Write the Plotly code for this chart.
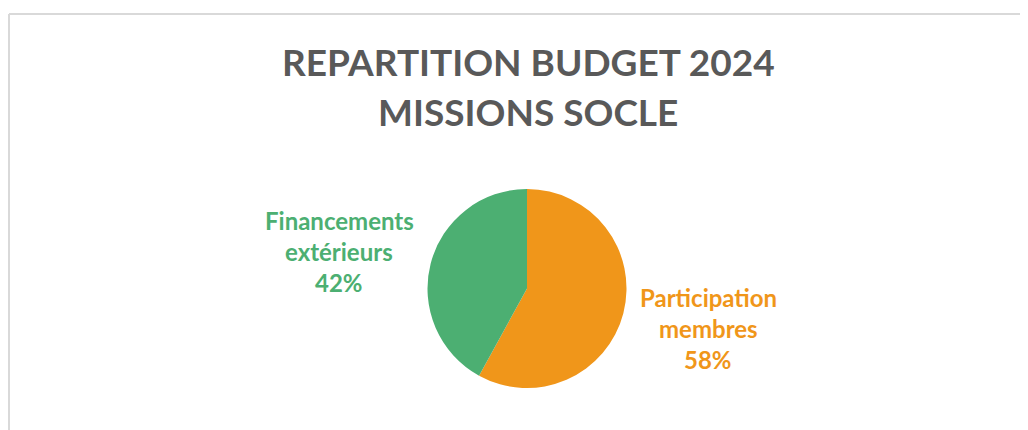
import plotly.graph_objects as go

title_lines = ["REPARTITION BUDGET 2024", "MISSIONS SOCLE"]
labels = ["Participation membres", "Financements extérieurs"]
label_lines = [["Participation", "membres"], ["Financements", "extérieurs"]]
values = [58, 42]
colors = ["#F0961A", "#4CAF72"]

W, H = 1028, 430
OFF = 8  # page body margin offset
FONT = "Lato"


def px(x):
    return (x - OFF) / W


def py(y):
    return 1 - (y - OFF) / H


fig = go.Figure()
fig.add_trace(go.Pie(
    labels=labels, values=values, sort=False, direction="clockwise", rotation=0,
    marker=dict(colors=colors, line=dict(width=0)),
    textinfo="none", hoverinfo="label+percent", showlegend=False,
    domain=dict(x=[px(527 - 99.5), px(527 + 99.5)],
                y=[py(288.5 + 99.5), py(288.5 - 99.5)]),
))

total = sum(values)
pcts = [round(v * 100 / total) for v in values]
label_pos = [(708, 297), (339, 220)]
for lines, p, c, (x, y) in zip(label_lines, pcts, colors, label_pos):
    for i, t in enumerate(lines + [f"{p}%"]):
        fig.add_annotation(
            x=px(x), y=py(y + i * 31), xref="paper", yref="paper", xanchor="center", yanchor="middle",
            text=f"<b>{t}</b>", showarrow=False,
            font=dict(family=FONT, size=24, color=c),
        )

for i, t in enumerate(title_lines):
    fig.add_annotation(
        x=px(528), y=py(61 + i * 50), xref="paper", yref="paper", xanchor="center", yanchor="middle",
        text=f"<b>{t}</b>", showarrow=False,
        font=dict(family=FONT, size=37, color="#595959"),
    )

# chart frame border (top and left edges visible)
fig.add_shape(type="line", xref="paper", yref="paper", x0=px(9), x1=1.02, y0=py(14), y1=py(14),
              line=dict(color="#D9D9D9", width=2))
fig.add_shape(type="line", xref="paper", yref="paper", x0=px(9), x1=px(9), y0=-0.05, y1=py(14),
              line=dict(color="#D9D9D9", width=2))

fig.update_layout(
    width=W, height=H, margin=dict(l=0, r=0, t=0, b=0),
    paper_bgcolor="white", plot_bgcolor="white",
)
fig.write_html("out.html")
